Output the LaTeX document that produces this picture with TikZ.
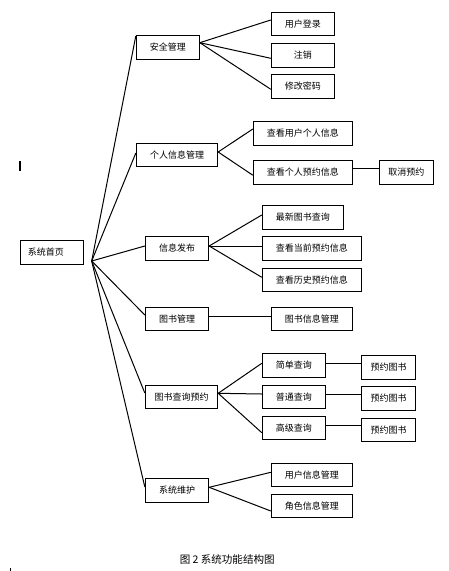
\documentclass[tikz,border=0pt]{standalone}
\usepackage{fontspec}
\setmainfont{Noto Sans CJK SC}
\usetikzlibrary{calc}
\begin{document}
\begin{tikzpicture}[x=0.75pt,y=-0.75pt,
  box/.style={draw=black, line width=0.75pt, inner sep=0pt, align=center,
    font=\fontsize{6.75pt}{8pt}\selectfont},
  conn/.style={draw=black, line width=0.75pt},
  capt/.style={font=\fontsize{7.9pt}{9pt}\selectfont, inner sep=0pt}]
\useasboundingbox (0,0) rectangle (449,571);
% root
\node[box, minimum width=47.25pt, minimum height=18pt, text width=36pt, inner xsep=5.5pt, align=left] (root) at (51.8,252.3) {系统首页};
\coordinate (hub) at (91.7,261);
% level 2
\node[box, minimum width=47.25pt, minimum height=18pt] (aq) at (167.8,47.3) {安全管理};
\node[box, minimum width=61pt, minimum height=17pt] (grxx) at (177,154.7) {个人信息管理};
\node[box, minimum width=47.5pt, minimum height=18pt] (xxfb) at (177,248.3) {信息发布};
\node[box, minimum width=47.5pt, minimum height=17.25pt] (tsgl) at (177,318.8) {图书管理};
\node[box, minimum width=54.3pt, minimum height=17.25pt] (cxyy) at (181.5,396.8) {图书查询预约};
\node[box, minimum width=47.5pt, minimum height=18pt] (xtwh) at (177,490.3) {系统维护};
% level 3
\node[box, minimum width=47.25pt, minimum height=17pt] (yhdl) at (302.8,23.7) {用户登录};
\node[box, minimum width=47.25pt, minimum height=18pt] (zx) at (302.8,55.3) {注销};
\node[box, minimum width=47.25pt, minimum height=18pt] (xgmm) at (302.8,86.3) {修改密码};
\node[box, minimum width=74.25pt, minimum height=17.7pt] (ckyh) at (302.8,133.5) {查看用户个人信息};
\node[box, minimum width=74.25pt, minimum height=17.7pt] (ckyy) at (302.8,172.2) {查看个人预约信息};
\node[box, minimum width=40.5pt, minimum height=17.7pt] (qxyy) at (406.3,172.2) {取消预约};
\node[box, minimum width=60.75pt, minimum height=18pt] (zxts) at (302.8,217.3) {最新图书查询};
\node[box, minimum width=74.25pt, minimum height=18pt] (dqyy) at (311.8,248.3) {查看当前预约信息};
\node[box, minimum width=74.25pt, minimum height=17pt] (lsyy) at (311.8,279.7) {查看历史预约信息};
\node[box, minimum width=60.75pt, minimum height=17.25pt] (tsxx) at (311.8,318.8) {图书信息管理};
\node[box, minimum width=47.25pt, minimum height=18pt] (jdcx) at (293.8,365.3) {简单查询};
\node[box, minimum width=47.25pt, minimum height=17.25pt] (ptcx) at (293.8,396.8) {普通查询};
\node[box, minimum width=47.25pt, minimum height=17.25pt] (gjcx) at (293.8,427.8) {高级查询};
\node[box, minimum width=40.8pt, minimum height=18pt] (yy1) at (388.5,367.3) {预约图书};
\node[box, minimum width=40.8pt, minimum height=18pt] (yy2) at (388.5,398.3) {预约图书};
\node[box, minimum width=40.8pt, minimum height=17.25pt] (yy3) at (388.5,429.8) {预约图书};
\node[box, minimum width=60.75pt, minimum height=17.25pt] (yhxx) at (311.8,474.8) {用户信息管理};
\node[box, minimum width=60.75pt, minimum height=17.25pt] (jsxx) at (311.8,505.8) {角色信息管理};
% hub connectors
\draw[conn] (hub) -- ($(aq.west)+(0,-11.3)$);
\draw[conn] (hub) -- ($(grxx.west)+(0,-1.7)$);
\draw[conn] (hub) -- ($(xxfb.west)+(0,-2.3)$);
\draw[conn] (hub) -- ($(tsgl.west)+(0,-3.8)$);
\draw[conn] (hub) -- ($(cxyy.west)+(0,-3.8)$);
\draw[conn] (hub) -- ($(xtwh.west)+(0,-3.3)$);
% 安全管理
\draw[conn] ($(aq.east)+(0,-4.6)$) -- ($(yhdl.west)+(0,-3.7)$);
\draw[conn] ($(aq.east)+(0,-4.6)$) -- ($(zx.west)+(0,3)$);
\draw[conn] ($(aq.east)+(0,-4.6)$) -- ($(xgmm.west)+(0,3)$);
% 个人信息管理
\draw[conn] ($(grxx.east)+(0,-2.7)$) -- ($(ckyh.west)+(0,-4.5)$);
\draw[conn] ($(grxx.east)+(0,-2.7)$) -- ($(ckyy.west)+(0,3)$);
\draw[conn] ($(ckyy.east)+(0,-3.5)$) -- ($(qxyy.west)+(0,-3.5)$);
% 信息发布
\draw[conn] ($(xxfb.east)+(0,-2.3)$) -- ($(zxts.west)+(0,-2.3)$);
\draw[conn] ($(xxfb.east)+(0,-2.3)$) -- ($(dqyy.west)+(0,-2.3)$);
\draw[conn] ($(xxfb.east)+(0,-2.3)$) -- ($(lsyy.west)+(0,-2.4)$);
% 图书管理
\draw[conn] ($(tsgl.east)+(0,-2.5)$) -- ($(tsxx.west)+(0,-2.5)$);
% 图书查询预约
\draw[conn] ($(cxyy.east)+(0,-3.5)$) -- ($(jdcx.west)+(0,-2)$);
\draw[conn] ($(cxyy.east)+(0,-3.5)$) -- ($(ptcx.west)+(0,-2.8)$);
\draw[conn] ($(cxyy.east)+(0,-3.5)$) -- ($(gjcx.west)+(0,4.9)$);
\draw[conn] ($(jdcx.east)+(0,-2)$) -- ($(yy1.west)+(0,-4)$);
\draw[conn] ($(ptcx.east)+(0,-2.8)$) -- ($(yy2.west)+(0,-4.3)$);
\draw[conn] ($(gjcx.east)+(0,-2.1)$) -- ($(yy3.west)+(0,-4.1)$);
% 系统维护
\draw[conn] ($(xtwh.east)+(0,-3)$) -- ($(yhxx.west)+(0,-2.5)$);
\draw[conn] ($(xtwh.east)+(0,-3)$) -- ($(jsxx.west)+(0,5.2)$);
% caption
\node[capt] (cap) at (227.2,559.5) {图 2 系统功能结构图};
% stray marks
\fill[black] (18.5,161) rectangle (20.7,171);
\fill[black] (10,568) rectangle (11,571);
\end{tikzpicture}
\end{document}
